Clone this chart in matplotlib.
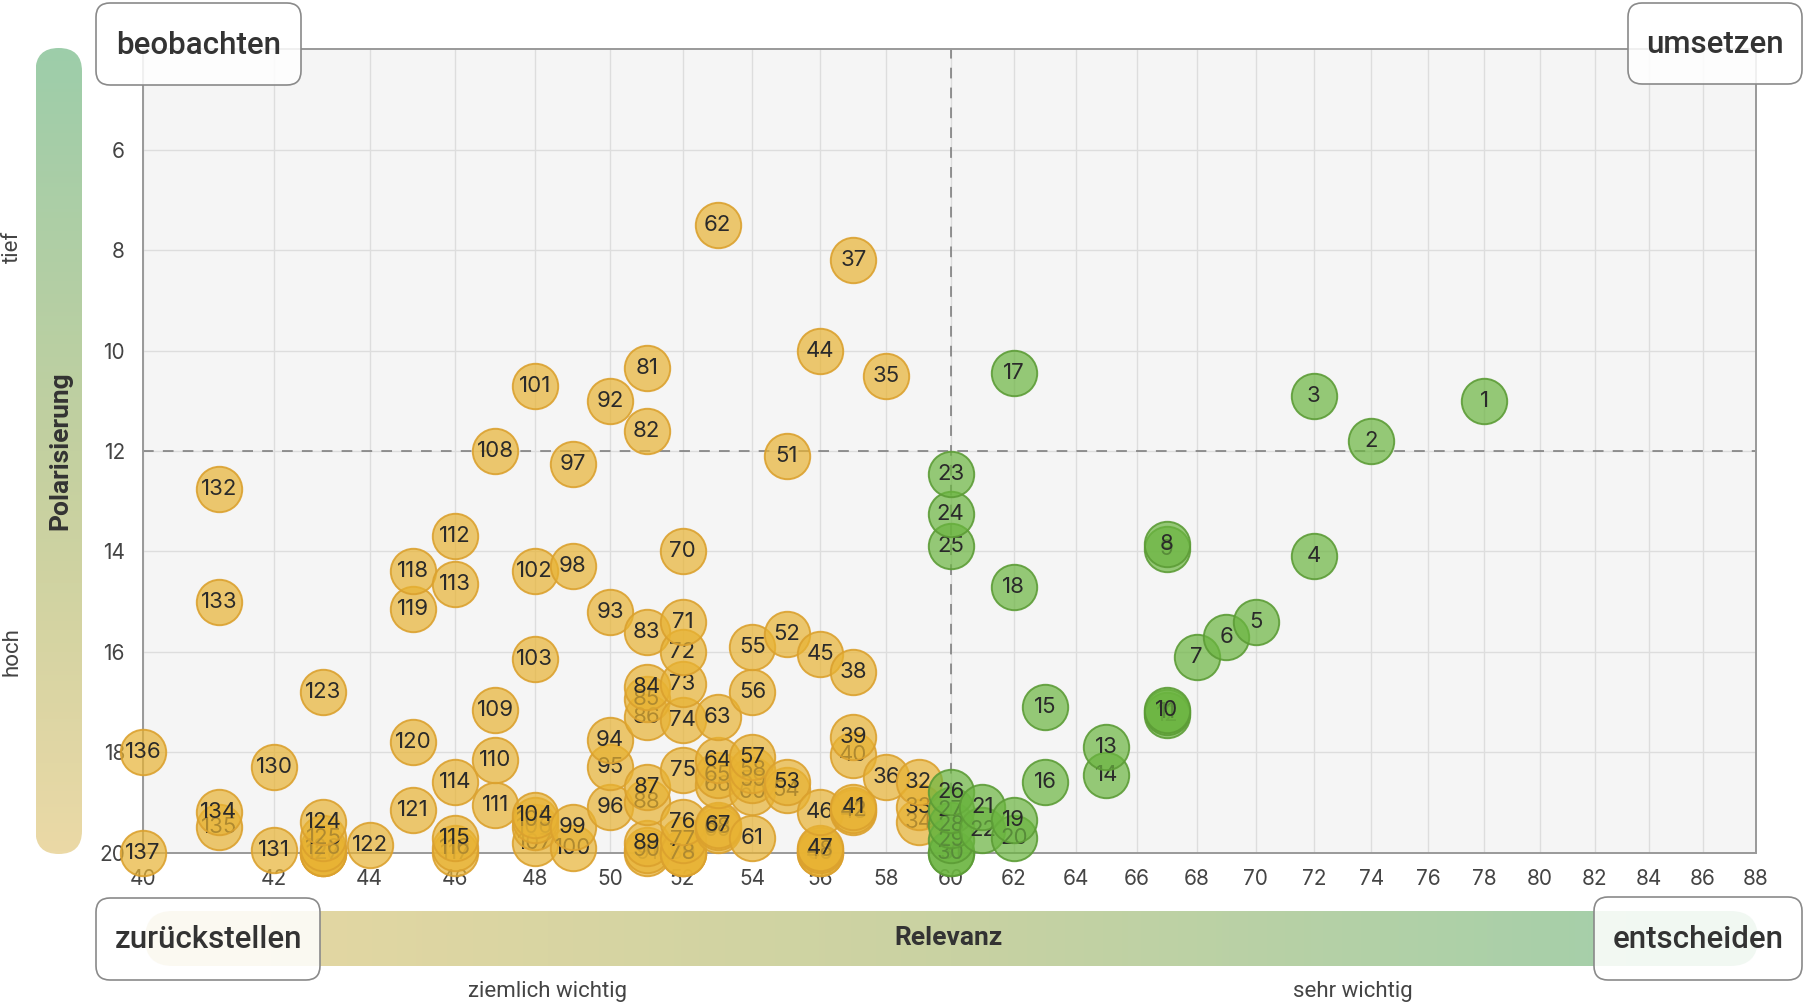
import numpy as np
import matplotlib
matplotlib.use("Agg")
import matplotlib.pyplot as plt
from matplotlib.patches import FancyBboxPatch
from matplotlib.colors import LinearSegmentedColormap

plt.rcParams['font.family'] = ['Inter', 'DejaVu Sans']

# ---------------- data ----------------
ids = list(range(1, 138))
relevanz = [78, 74, 72, 72, 70, 69, 68, 67, 67, 67, 67, 67, 65, 65, 63, 63, 62, 62, 62, 62,
            61, 61, 60, 60, 60, 60, 60, 60, 60, 60, 60, 59, 59, 59, 58, 58, 57, 57, 57, 57,
            57, 57, 57, 56, 56, 56, 56, 56, 56, 56, 55, 55, 55, 55, 54, 54, 54, 54, 54, 54,
            54, 53, 53, 53, 53, 53, 53, 53, 53, 52, 52, 52, 52, 52, 52, 52, 52, 52, 52, 52,
            51, 51, 51, 51, 51, 51, 51, 51, 51, 51, 51, 50, 50, 50, 50, 50, 49, 49, 49, 49,
            48, 48, 48, 48, 48, 48, 48, 47, 47, 47, 47, 46, 46, 46, 46, 46, 46, 45, 45, 45,
            45, 44, 43, 43, 43, 43, 43, 43, 43, 42, 42, 41, 41, 41, 41, 40, 40]
polarisierung = [11.0, 11.8, 10.9, 14.1, 15.4, 15.7, 16.1, 13.85, 13.95, 17.15, 17.2, 17.25,
                 17.9, 18.45, 17.1, 18.6, 10.45, 14.7, 19.35, 19.7, 19.1, 19.55, 12.45, 13.25,
                 13.9, 18.8, 19.15, 19.45, 19.75, 20.0, 20.0, 18.6, 19.1, 19.4, 10.5, 18.5,
                 8.2, 16.4, 17.7, 18.05, 19.1, 19.15, 19.2, 10.0, 16.05, 19.2, 19.9, 19.95,
                 20.0, 20.0, 12.1, 15.65, 18.6, 18.75, 15.9, 16.8, 18.1, 18.35, 18.55, 18.8,
                 19.7, 7.5, 17.3, 18.15, 18.45, 18.65, 19.45, 19.5, 19.55, 14.0, 15.4, 16.0,
                 16.65, 17.35, 18.35, 19.4, 19.75, 20.0, 20.0, 20.0, 10.35, 11.6, 15.6, 16.7,
                 16.95, 17.3, 18.7, 19.0, 19.8, 19.95, 20.0, 11.0, 15.2, 17.75, 18.3, 19.1,
                 12.25, 14.3, 19.5, 19.9, 10.7, 14.4, 16.15, 19.25, 19.35, 19.5, 19.8, 12.0,
                 17.15, 18.15, 19.05, 13.7, 14.65, 18.6, 19.7, 19.9, 20.0, 14.4, 15.15, 17.8,
                 19.15, 19.85, 16.8, 19.4, 19.7, 19.9, 20.0, 20.0, 20.0, 18.3, 19.95, 12.75,
                 15.0, 19.2, 19.5, 18.0, 20.0]
x_ticks = list(range(40, 89, 2))
y_ticks = list(range(6, 21, 2))
x_split = 60
y_split = 12
corner_labels = ["beobachten", "umsetzen", "zurückstellen", "entscheiden"]
x_title = "Relevanz"
y_title = "Polarisierung"
y_low_label = "tief"
y_high_label = "hoch"
x_mid_labels = ["ziemlich wichtig", "sehr wichtig"]

# ---------------- figure ----------------
W, H = 1804, 1006
fig = plt.figure(figsize=(W / 100, H / 100), dpi=100)
ax = fig.add_axes([143 / W, 1 - 852.6 / H, (1756 - 143) / W, (852.6 - 49.3) / H])
ax.set_zorder(1)

P = 0.79
def fwd(v):
    d = np.asarray(v, dtype=float) - 40.0
    return np.sign(d) * np.abs(d) ** P
def inv(v):
    v = np.asarray(v, dtype=float)
    return 40.0 + np.sign(v) * np.abs(v) ** (1 / P)

ax.set_xscale('function', functions=(fwd, inv))
ax.set_xlim(40, 88)
ax.set_ylim(20, 4)
ax.set_facecolor('#f5f5f5')
ax.set_xticks(x_ticks)
ax.set_yticks(y_ticks)
ax.set_xticks([], minor=True)
ax.grid(True, color='#dddddd', lw=1.0, zorder=0)
ax.set_axisbelow(True)
ax.tick_params(length=0, labelsize=15, colors='#444444')
ax.tick_params(axis='x', pad=12)
ax.tick_params(axis='y', pad=13)
for s in ax.spines.values():
    s.set_color('#999999')
    s.set_linewidth(1.4)

ax.axvline(x_split, color='#777777', lw=1.1, dashes=(7, 6), zorder=1.6)
ax.axhline(y_split, color='#777777', lw=1.1, dashes=(7, 6), zorder=1.6)

orange_face = (0.91, 0.70, 0.20, 0.70)
orange_edge = (0.86, 0.63, 0.18, 0.9)
green_face = (0.42, 0.71, 0.25, 0.70)
green_edge = (0.36, 0.61, 0.21, 0.9)

n = len(ids)
for k, i in enumerate(range(n - 1, -1, -1)):
    xv, yv = relevanz[i], polarisierung[i]
    green = xv >= x_split
    z = 3 + k * 0.01
    ax.scatter([xv], [yv], s=1070, marker='o',
               facecolor=green_face if green else orange_face,
               edgecolor=green_edge if green else orange_edge,
               linewidth=1.4, zorder=z, clip_on=False)
    ax.text(xv, yv, str(ids[i]), ha='center', va='center', fontsize=16,
            color='#2a2a2a', zorder=z + 0.005, clip_on=False)

# ---------------- overlay (bars, boxes, labels) ----------------
ov = fig.add_axes([0, 0, 1, 1])
ov.set_zorder(2)
ov.set_xlim(0, W)
ov.set_ylim(H, 0)
ov.axis('off')
ov.patch.set_alpha(0)

# left vertical gradient bar
cmap_v = LinearSegmentedColormap.from_list('v', ['#9dcdaa', '#c3d0a0', '#ebd9a6'])
grad_v = np.linspace(0, 1, 256).reshape(-1, 1)
bx0, bx1, by0, by1 = 35.5, 82, 48, 854
im = ov.imshow(grad_v, cmap=cmap_v, extent=(bx0, bx1, by1, by0), aspect='auto', zorder=1)
clip = FancyBboxPatch((bx0, by0), bx1 - bx0, by1 - by0,
                      boxstyle=f"round,pad=0,rounding_size={(bx1 - bx0) / 2}",
                      transform=ov.transData, facecolor='none', edgecolor='none')
ov.add_patch(clip)
im.set_clip_path(clip)

# bottom horizontal gradient bar
cmap_h = LinearSegmentedColormap.from_list('h', ['#e9d8a3', '#c9d2a2', '#9ecfab'])
grad_h = np.linspace(0, 1, 256).reshape(1, -1)
hx0, hx1, hy0, hy1 = 145, 1758, 911, 966
im2 = ov.imshow(grad_h, cmap=cmap_h, extent=(hx0, hx1, hy1, hy0), aspect='auto', zorder=1)
clip2 = FancyBboxPatch((hx0, hy0), hx1 - hx0, hy1 - hy0,
                       boxstyle=f"round,pad=0,rounding_size={(hy1 - hy0) / 2}",
                       transform=ov.transData, facecolor='none', edgecolor='none')
ov.add_patch(clip2)
im2.set_clip_path(clip2)

# corner boxes
boxes = [(96, 3, 301, 85), (1628, 3, 1802, 84), (96, 898, 320, 980), (1594, 897, 1802, 980)]
for (x0, y0, x1, y1), lab in zip(boxes, corner_labels):
    p = FancyBboxPatch((x0, y0), x1 - x0, y1 - y0,
                       boxstyle="round,pad=0,rounding_size=14",
                       facecolor=(1, 1, 1, 0.86), edgecolor='#8a8a8a', lw=1.2, zorder=3)
    ov.add_patch(p)
    ov.text((x0 + x1) / 2, (y0 + y1) / 2 + 1, lab, ha='center', va='center',
            fontsize=22.5, family=['Roboto', 'DejaVu Sans'], fontweight='medium',
            color='#333333', zorder=4)

ov.text(949, 938, x_title, ha='center', va='center', fontsize=19,
        family=['Roboto', 'DejaVu Sans'], fontweight='bold', color='#333333', zorder=4)
ov.text(60, 451, y_title, ha='center', va='center', rotation=90, fontsize=19,
        family=['Roboto', 'DejaVu Sans'], fontweight='bold', color='#333333', zorder=4)
ov.text(12, 247, y_low_label, ha='center', va='center', rotation=90, fontsize=16,
        family=['Roboto', 'DejaVu Sans'], color='#444444', zorder=4)
ov.text(12, 652, y_high_label, ha='center', va='center', rotation=90, fontsize=16,
        family=['Roboto', 'DejaVu Sans'], color='#444444', zorder=4)
ov.text(547, 991, x_mid_labels[0], ha='center', va='center', fontsize=16,
        family=['Roboto', 'DejaVu Sans'], color='#444444', zorder=4)
ov.text(1353, 991, x_mid_labels[1], ha='center', va='center', fontsize=16,
        family=['Roboto', 'DejaVu Sans'], color='#444444', zorder=4)

fig.savefig('out.png', dpi=100)
